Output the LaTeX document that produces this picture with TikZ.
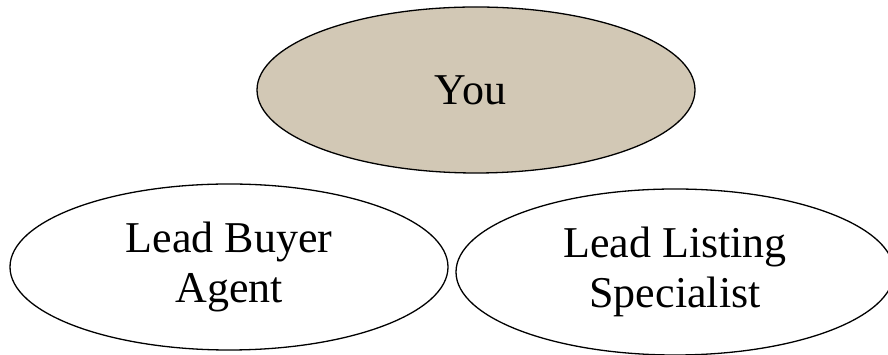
\documentclass[tikz,border=0pt]{standalone}
\usepackage{fontspec}
\setmainfont{Liberation Serif}
\usetikzlibrary{shapes.geometric}
\definecolor{youtan}{RGB}{210,200,181}

\begin{document}
\begin{tikzpicture}[x=1pt,y=1pt]
  \tikzstyle{rolenode}=[draw, ellipse, line width=1.3pt, inner sep=0pt,
    minimum width=438pt, minimum height=166pt, align=center,
    font=\fontsize{44}{50}\selectfont]

  \useasboundingbox (0,0) rectangle (888,355);

  \node[rolenode, fill=youtan] (You) at (476, 265) { You };

  \node[rolenode] (Buyer) at (229, 88) { Lead Buyer\\Agent };

  \node[rolenode] (Listing) at (675, 83) { Lead Listing\\Specialist };

\end{tikzpicture}
\end{document}
